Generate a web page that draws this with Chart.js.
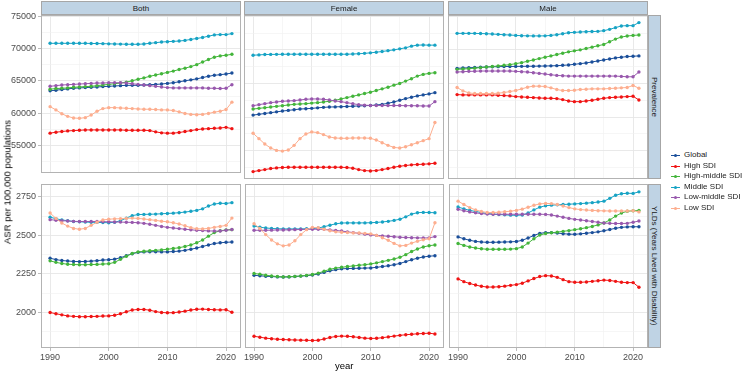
<!DOCTYPE html>
<html>
<head>
<meta charset="utf-8">
<script src="https://cdn.jsdelivr.net/npm/chart.js@4.4.1/dist/chart.umd.min.js"></script>
<style>
  body { margin: 0; background: #fff; font-family: 'Liberation Sans', Arial, sans-serif; }
  #wrap { position: relative; width: 743px; height: 372px; overflow: hidden; }
  canvas { position: absolute; }
  .strip { position: absolute; box-sizing: border-box; background: #bfd3e4; border: 1px solid #a6a6a6;
           color: #1a1a1a; font-size: 8px; display: flex; align-items: center; justify-content: center; }
  .strip.side { writing-mode: vertical-rl; }
  .title { position: absolute; font-size: 9.5px; color: #000; white-space: nowrap; }
  #legend { position: absolute; left: 671px; top: 150px; font-size: 8px; color: #1a1a1a; }
  #legend div { position: relative; height: 10.6px; line-height: 10.6px; padding-left: 13px; white-space: nowrap; }
  #legend i { position: absolute; left: 0; top: 5px; width: 9px; height: 1px; }
  #legend b { position: absolute; left: 3px; top: 4px; width: 3px; height: 3px; border-radius: 50%; }
</style>
</head>
<body>
<div id="wrap"></div>
<script>
// 1990 .. 2021
var years = [1990, 1991, 1992, 1993, 1994, 1995, 1996, 1997, 1998, 1999, 2000, 2001, 2002, 2003, 2004, 2005,
             2006, 2007, 2008, 2009, 2010, 2011, 2012, 2013, 2014, 2015, 2016, 2017, 2018, 2019, 2020, 2021];

var seriesNames = ['Global', 'High SDI', 'High-middle SDI', 'Middle SDI', 'Low-middle SDI', 'Low SDI'];
var seriesColors = ['#1b4f9a', '#f01414', '#43b53b', '#17a3c4', '#9858ad', '#fdae8f'];

var sexes = ['Both', 'Female', 'Male'];
var measures = ['Prevalence', 'YLDs (Years Lived with Disability)'];

// tick labels
var yearTicks = [1990, 2000, 2010, 2020];
var prevTicks = [55000, 60000, 65000, 70000, 75000];
var yldTicks = [2000, 2250, 2500, 2750];

// prevalence, rows follow seriesNames order
var prevBoth = [
  [63450, 63550, 63650, 63750, 63850, 63900, 63950, 64000, 64050, 64100, 64150, 64200, 64250, 64300, 64300, 64300, 64350, 64400, 64450, 64500, 64600, 64700, 64850, 65000, 65150, 65300, 65500, 65700, 65850, 65950, 66050, 66200],
  [56900, 57050, 57150, 57250, 57300, 57350, 57400, 57400, 57400, 57400, 57400, 57400, 57400, 57350, 57350, 57350, 57350, 57300, 57100, 56950, 56900, 56900, 57000, 57150, 57300, 57450, 57550, 57600, 57650, 57700, 57800, 57600],
  [63700, 63800, 63850, 63900, 64000, 64050, 64100, 64150, 64250, 64350, 64450, 64550, 64650, 64800, 65000, 65250, 65450, 65700, 65900, 66100, 66300, 66500, 66750, 66950, 67200, 67500, 67900, 68300, 68650, 68850, 68950, 69100],
  [70800, 70800, 70800, 70800, 70800, 70800, 70800, 70780, 70760, 70750, 70720, 70700, 70680, 70660, 70650, 70650, 70700, 70800, 70900, 71000, 71050, 71100, 71150, 71250, 71400, 71550, 71700, 71900, 72100, 72150, 72150, 72300],
  [64150, 64250, 64350, 64400, 64450, 64500, 64550, 64600, 64650, 64650, 64700, 64700, 64700, 64650, 64550, 64450, 64350, 64250, 64150, 64050, 63950, 63900, 63900, 63900, 63900, 63900, 63900, 63850, 63850, 63800, 63850, 64400],
  [61000, 60500, 59900, 59500, 59250, 59200, 59300, 59700, 60300, 60700, 60850, 60850, 60800, 60750, 60700, 60650, 60600, 60600, 60550, 60500, 60500, 60400, 60200, 59950, 59800, 59750, 59800, 59950, 60150, 60300, 60550, 61700]
];
var prevFemale = [
  [60300, 60420, 60540, 60660, 60780, 60900, 61000, 61100, 61200, 61250, 61300, 61380, 61450, 61500, 61520, 61550, 61580, 61620, 61660, 61700, 61730, 61800, 61900, 62050, 62250, 62500, 62750, 62950, 63150, 63300, 63450, 63640],
  [51900, 52050, 52200, 52350, 52450, 52500, 52550, 52550, 52550, 52550, 52550, 52550, 52550, 52550, 52550, 52550, 52500, 52400, 52200, 52050, 52000, 52050, 52200, 52350, 52550, 52700, 52800, 52900, 52950, 53000, 53050, 53150],
  [61200, 61300, 61400, 61500, 61600, 61700, 61800, 61900, 61950, 62000, 62080, 62150, 62250, 62350, 62500, 62700, 62900, 63100, 63300, 63500, 63700, 63950, 64200, 64450, 64750, 65000, 65350, 65700, 66100, 66350, 66500, 66600],
  [69200, 69250, 69300, 69320, 69330, 69340, 69350, 69350, 69350, 69350, 69350, 69350, 69350, 69350, 69350, 69350, 69350, 69380, 69420, 69480, 69550, 69650, 69750, 69880, 70000, 70150, 70300, 70550, 70700, 70720, 70700, 70700],
  [61700, 61850, 62000, 62150, 62250, 62350, 62400, 62450, 62550, 62650, 62700, 62700, 62650, 62550, 62400, 62300, 62150, 62000, 61850, 61780, 61730, 61720, 61720, 61720, 61720, 61720, 61700, 61700, 61680, 61660, 61650, 62300],
  [57600, 56800, 56000, 55400, 55050, 54950, 55100, 55800, 56800, 57500, 57800, 57700, 57400, 57050, 56900, 56850, 56850, 56900, 56900, 56900, 56850, 56600, 56200, 55800, 55500, 55400, 55600, 55900, 56200, 56500, 56800, 59200]
];
var prevMale = [
  [67250, 67300, 67340, 67380, 67420, 67450, 67480, 67500, 67520, 67530, 67540, 67550, 67560, 67570, 67580, 67600, 67620, 67650, 67700, 67750, 67850, 67950, 68050, 68200, 68350, 68500, 68650, 68800, 68900, 69000, 69050, 69100],
  [63350, 63300, 63300, 63300, 63300, 63300, 63300, 63250, 63200, 63150, 63050, 63000, 62950, 62900, 62850, 62800, 62800, 62750, 62600, 62400, 62300, 62300, 62400, 62500, 62650, 62800, 62900, 62950, 63000, 63050, 63100, 62550],
  [67100, 67150, 67200, 67280, 67360, 67440, 67520, 67600, 67700, 67800, 67950, 68100, 68300, 68500, 68700, 68900, 69100, 69300, 69500, 69700, 69850, 70000, 70200, 70400, 70600, 70800, 71200, 71600, 71900, 72050, 72150, 72200],
  [72450, 72450, 72450, 72450, 72420, 72400, 72350, 72300, 72250, 72200, 72150, 72100, 72080, 72070, 72070, 72080, 72150, 72250, 72400, 72550, 72600, 72650, 72700, 72720, 72750, 72850, 73050, 73300, 73550, 73600, 73600, 74050],
  [66700, 66750, 66800, 66820, 66850, 66850, 66850, 66850, 66850, 66850, 66800, 66750, 66700, 66600, 66500, 66400, 66300, 66200, 66150, 66100, 66100, 66100, 66100, 66100, 66100, 66100, 66100, 66100, 66050, 66000, 66000, 66700],
  [64400, 63900, 63600, 63500, 63500, 63500, 63500, 63550, 63650, 63800, 63950, 64200, 64450, 64600, 64600, 64550, 64350, 64100, 63950, 63950, 64000, 64100, 64150, 64200, 64200, 64200, 64250, 64300, 64350, 64400, 64700, 64300]
];

// YLDs
var yldBoth = [
  [2352, 2343, 2337, 2334, 2331, 2330, 2331, 2333, 2336, 2340, 2342, 2346, 2355, 2368, 2381, 2390, 2393, 2394, 2394, 2393, 2393, 2395, 2398, 2403, 2410, 2418, 2428, 2438, 2447, 2452, 2455, 2457],
  [2000, 1992, 1985, 1978, 1975, 1973, 1973, 1974, 1975, 1977, 1978, 1982, 1992, 2005, 2016, 2020, 2020, 2015, 2006, 2000, 1998, 1999, 2003, 2009, 2016, 2021, 2022, 2020, 2018, 2017, 2018, 2002],
  [2335, 2325, 2318, 2313, 2311, 2310, 2310, 2311, 2312, 2314, 2316, 2325, 2345, 2365, 2383, 2393, 2397, 2400, 2403, 2406, 2410, 2415, 2420, 2428, 2438, 2452, 2470, 2495, 2518, 2530, 2535, 2537],
  [2618, 2608, 2600, 2595, 2590, 2588, 2586, 2585, 2584, 2583, 2582, 2585, 2595, 2612, 2628, 2635, 2636, 2637, 2638, 2640, 2642, 2644, 2647, 2651, 2656, 2662, 2672, 2690, 2703, 2708, 2707, 2712],
  [2602, 2598, 2595, 2593, 2591, 2590, 2590, 2590, 2590, 2589, 2588, 2587, 2586, 2585, 2584, 2582, 2578, 2572, 2565, 2558, 2552, 2548, 2544, 2540, 2536, 2533, 2531, 2529, 2528, 2528, 2533, 2538],
  [2645, 2610, 2580, 2560, 2545, 2540, 2545, 2565, 2585, 2600, 2605, 2607, 2608, 2610, 2612, 2610, 2606, 2602, 2597, 2592, 2588, 2582, 2574, 2562, 2550, 2543, 2542, 2545, 2552, 2558, 2565, 2612]
];
var yldFemale = [
  [2241, 2238, 2235, 2233, 2231, 2230, 2231, 2233, 2236, 2239, 2243, 2250, 2260, 2270, 2278, 2283, 2285, 2286, 2287, 2288, 2289, 2293, 2298, 2303, 2310, 2318, 2330, 2342, 2352, 2360, 2365, 2368],
  [1846, 1840, 1834, 1830, 1827, 1825, 1823, 1822, 1821, 1820, 1819, 1820, 1828, 1838, 1845, 1847, 1846, 1843, 1838, 1834, 1832, 1833, 1837, 1842, 1847, 1852, 1856, 1859, 1862, 1864, 1866, 1861],
  [2253, 2248, 2242, 2237, 2233, 2231, 2232, 2234, 2237, 2241, 2246, 2255, 2268, 2280, 2288, 2293, 2298, 2302, 2306, 2310, 2315, 2322, 2330, 2338, 2347, 2358, 2375, 2395, 2412, 2425, 2433, 2438],
  [2560, 2553, 2548, 2545, 2543, 2542, 2542, 2542, 2542, 2543, 2544, 2548, 2556, 2566, 2575, 2580, 2581, 2581, 2581, 2581, 2582, 2584, 2587, 2591, 2597, 2605, 2620, 2638, 2647, 2649, 2648, 2647],
  [2533, 2533, 2533, 2534, 2535, 2535, 2536, 2537, 2538, 2539, 2540, 2540, 2539, 2535, 2532, 2528, 2523, 2518, 2513, 2508, 2503, 2500, 2497, 2494, 2491, 2488, 2486, 2485, 2484, 2483, 2484, 2492],
  [2575, 2545, 2505, 2470, 2445, 2432, 2438, 2465, 2505, 2537, 2552, 2549, 2540, 2530, 2523, 2520, 2518, 2516, 2515, 2513, 2510, 2500, 2485, 2468, 2448, 2432, 2435, 2450, 2462, 2472, 2478, 2582]
];
var yldMale = [
  [2490, 2478, 2468, 2461, 2457, 2455, 2455, 2456, 2457, 2458, 2460, 2468, 2483, 2500, 2513, 2518, 2518, 2515, 2511, 2508, 2507, 2510, 2514, 2518, 2523, 2530, 2538, 2546, 2552, 2555, 2556, 2556],
  [2218, 2200, 2188, 2178, 2170, 2165, 2165, 2167, 2171, 2176, 2181, 2190, 2205, 2220, 2233, 2239, 2237, 2228, 2213, 2200, 2196, 2196, 2198, 2202, 2206, 2210, 2208, 2202, 2196, 2194, 2194, 2164],
  [2447, 2435, 2425, 2418, 2413, 2410, 2410, 2410, 2410, 2411, 2414, 2425, 2450, 2478, 2502, 2512, 2517, 2521, 2526, 2531, 2537, 2543, 2550, 2558, 2568, 2580, 2600, 2625, 2645, 2656, 2660, 2661],
  [2684, 2672, 2662, 2655, 2648, 2642, 2638, 2635, 2633, 2631, 2630, 2632, 2645, 2665, 2683, 2692, 2696, 2698, 2700, 2702, 2704, 2706, 2709, 2712, 2716, 2722, 2740, 2760, 2770, 2773, 2772, 2782],
  [2669, 2660, 2652, 2646, 2641, 2638, 2637, 2637, 2637, 2637, 2637, 2637, 2637, 2637, 2637, 2636, 2632, 2625, 2617, 2610, 2604, 2600, 2595, 2590, 2585, 2580, 2578, 2577, 2577, 2578, 2585, 2593],
  [2722, 2700, 2680, 2665, 2655, 2648, 2648, 2650, 2653, 2657, 2662, 2670, 2682, 2695, 2704, 2707, 2706, 2700, 2690, 2680, 2672, 2667, 2664, 2662, 2660, 2659, 2658, 2658, 2658, 2658, 2660, 2652]
];

var panelData = [[prevBoth, prevFemale, prevMale], [yldBoth, yldFemale, yldMale]];

// y range per row (free y by measure)
var rowScale = [
  {min: 50800, max: 75180, major: prevTicks},
  {min: 1770, max: 2833, major: yldTicks}
];

Chart.defaults.font.family = "'Liberation Sans', Arial, sans-serif";
Chart.defaults.font.size = 9;
Chart.defaults.color = '#4d4d4d';

var colLeft = [41, 244, 448];
var rowTop = [15, 184];
var PW = 200, PH = 164;
var YAXIS_W = 41, XAXIS_H = 18, PAD_T = 8;

var panelBox = {
  id: 'panelBox',
  afterDraw: function(chart) {
    var a = chart.chartArea, ctx = chart.ctx;
    ctx.save();
    ctx.strokeStyle = '#b3b3b3';
    ctx.lineWidth = 1;
    ctx.strokeRect(Math.round(a.left) + 0.5, Math.round(a.top) + 0.5,
                   Math.round(a.right - a.left) - 1, Math.round(a.bottom - a.top) - 1);
    ctx.restore();
  }
};

var wrap = document.getElementById('wrap');

function addDiv(cls, text, x, y, w, h) {
  var d = document.createElement('div');
  d.className = cls;
  d.textContent = text;
  d.style.left = x + 'px'; d.style.top = y + 'px';
  if (w) d.style.width = w + 'px';
  if (h) d.style.height = h + 'px';
  wrap.appendChild(d);
  return d;
}

// major breaks plus ggplot-style minor breaks half way between them
function withMinor(major, min, max) {
  var half = (major[1] - major[0]) / 2;
  var out = [];
  major.forEach(function(m) { out.push(m - half, m); });
  out.push(major[major.length - 1] + half);
  return out.filter(function(v) { return v >= min && v <= max; }).map(function(v) { return {value: v}; });
}

function isMajor(v, list) { return list.indexOf(v) >= 0; }

for (var r = 0; r < 2; r++) {
  for (var c = 0; c < 3; c++) {
    (function(row, col) {
      var rs = rowScale[row];
      var padL = col === 0 ? YAXIS_W : 1;
      var padB = row === 1 ? XAXIS_H : 1;
      var cv = document.createElement('canvas');
      cv.width = PW + padL + 1;
      cv.height = PH + PAD_T + padB;
      cv.style.left = (colLeft[col] - padL) + 'px';
      cv.style.top = (rowTop[row] - PAD_T) + 'px';
      wrap.appendChild(cv);

      var rows = panelData[row][col];
      var datasets = seriesNames.map(function(name, k) {
        return {
          label: name,
          data: years.map(function(yr, i) { return {x: yr, y: rows[k][i]}; }),
          borderColor: seriesColors[k],
          backgroundColor: seriesColors[k],
          borderWidth: 1,
          pointRadius: 1.7,
          pointBorderWidth: 0,
          tension: 0,
          order: seriesNames.length - k
        };
      });

      new Chart(cv.getContext('2d'), {
        type: 'line',
        data: {datasets: datasets},
        options: {
          responsive: false,
          animation: false,
          layout: {
            autoPadding: false,
            padding: {top: PAD_T, right: 1, left: col === 0 ? 0 : 1, bottom: row === 0 ? 1 : 0}
          },
          plugins: {legend: {display: false}, tooltip: {enabled: false}},
          scales: {
            x: {
              type: 'linear',
              min: 1988.45, max: 2022.55,
              border: {display: false},
              afterBuildTicks: function(s) { s.ticks = withMinor(yearTicks, s.min, s.max); },
              grid: {
                color: function(ctx) { return ctx.tick && isMajor(ctx.tick.value, yearTicks) ? '#e6e6e6' : '#f0f0f0'; },
                lineWidth: function(ctx) { return ctx.tick && isMajor(ctx.tick.value, yearTicks) ? 0.9 : 0.6; },
                tickColor: function(ctx) { return ctx.tick && isMajor(ctx.tick.value, yearTicks) ? '#b3b3b3' : 'rgba(0,0,0,0)'; },
                drawTicks: row === 1,
                tickLength: 3
              },
              ticks: {
                display: row === 1,
                autoSkip: false, maxRotation: 0, minRotation: 0,
                padding: 1, font: {size: 9},
                callback: function(v) { return isMajor(v, yearTicks) ? String(v) : ''; }
              },
              afterFit: function(s) { s.height = row === 1 ? XAXIS_H : 0; }
            },
            y: {
              min: rs.min, max: rs.max,
              border: {display: false},
              afterBuildTicks: function(s) { s.ticks = withMinor(rs.major, s.min, s.max); },
              grid: {
                color: function(ctx) { return ctx.tick && isMajor(ctx.tick.value, rs.major) ? '#e6e6e6' : '#f0f0f0'; },
                lineWidth: function(ctx) { return ctx.tick && isMajor(ctx.tick.value, rs.major) ? 0.9 : 0.6; },
                tickColor: function(ctx) { return ctx.tick && isMajor(ctx.tick.value, rs.major) ? '#b3b3b3' : 'rgba(0,0,0,0)'; },
                drawTicks: col === 0,
                tickLength: 3
              },
              ticks: {
                display: col === 0,
                autoSkip: false,
                padding: 2, font: {size: 9},
                callback: function(v) { return isMajor(v, rs.major) ? String(v) : ''; }
              },
              afterFit: function(s) { s.width = col === 0 ? YAXIS_W : 0; }
            }
          }
        },
        plugins: [panelBox]
      });
    })(r, c);
  }
}

// facet strips
for (var c2 = 0; c2 < 3; c2++) addDiv('strip', sexes[c2], colLeft[c2], 1, PW, 14);
for (var r2 = 0; r2 < 2; r2++) addDiv('strip side', measures[r2], colLeft[2] + PW, rowTop[r2], 13, PH);

// axis titles
addDiv('title', 'year', colLeft[1] + PW / 2 - 9, 360);
var yt = addDiv('title', 'ASR per 100,000 populations', 0, 0);
yt.style.left = '7px'; yt.style.top = '182px';
yt.style.transform = 'translate(-50%, -50%) rotate(-90deg)';

// legend
var lg = document.createElement('div');
lg.id = 'legend';
seriesNames.forEach(function(name, k) {
  var it = document.createElement('div');
  it.innerHTML = '<i></i><b></b>';
  it.querySelector('i').style.background = seriesColors[k];
  it.querySelector('b').style.background = seriesColors[k];
  it.appendChild(document.createTextNode(name));
  lg.appendChild(it);
});
wrap.appendChild(lg);
</script>
</body>
</html>
